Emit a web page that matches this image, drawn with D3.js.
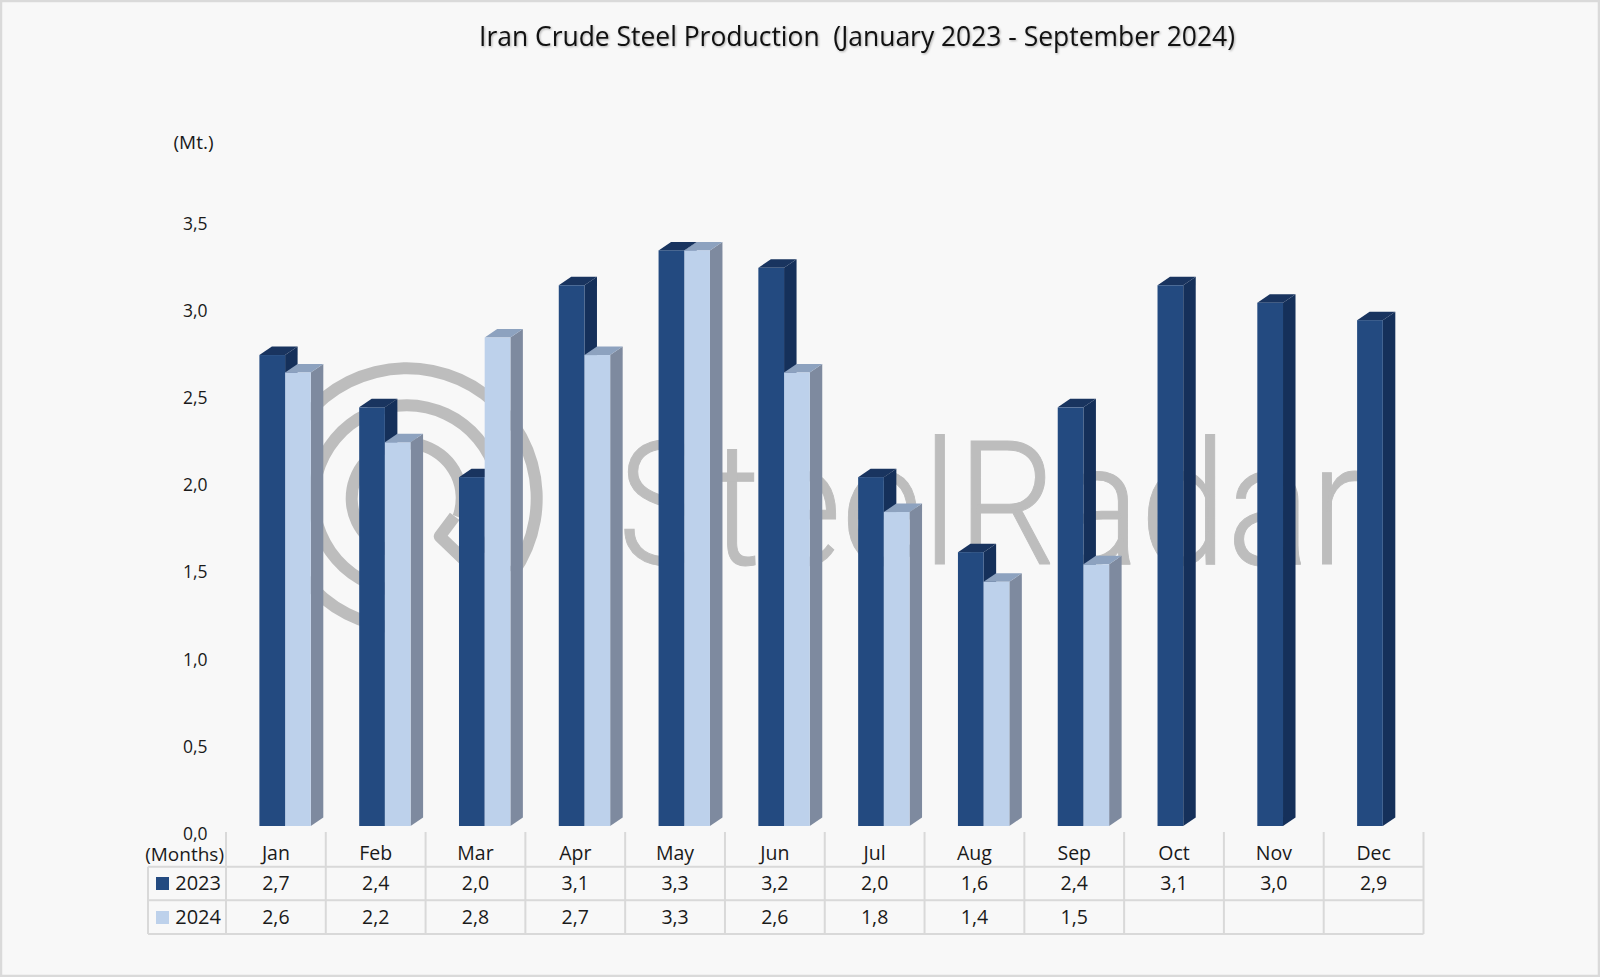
<!DOCTYPE html>
<html><head><meta charset="utf-8">
<script src="https://cdnjs.cloudflare.com/ajax/libs/d3/7.8.5/d3.min.js"></script>
<style>html,body{margin:0;padding:0;background:#f8f8f8}svg{display:block}
text{font-family:"Open Sans",sans-serif;fill:#1a1a1a}</style></head><body>
<script>
const months=["Jan","Feb","Mar","Apr","May","Jun","Jul","Aug","Sep","Oct","Nov","Dec"];
const years=["2023","2024"];
const values2023=[2.7,2.4,2.0,3.1,3.3,3.2,2.0,1.57,2.4,3.1,3.0,2.9];
const values2024=[2.6,2.2,2.8,2.7,3.3,2.6,1.8,1.4,1.5,null,null,null];
const yTicks=[0,0.5,1,1.5,2,2.5,3,3.5];
const titleText="Iran Crude Steel Production  (January 2023 - September 2024)";
const palette={2023:{front:"#234a80",side:"#15305a",top:"#19345f"},2024:{front:"#bdd1eb",side:"#7e8a9f",top:"#8da2bf"}};

const W=1600,H=977,depthX=12.5,depthY=8.5;
const svg=d3.select("body").append("svg").attr("width",W).attr("height",H);
svg.append("rect").attr("x",1).attr("y",1).attr("width",W-2).attr("height",H-2)
  .attr("fill","#f8f8f8").attr("stroke","#dadada").attr("stroke-width",2.5);

const x=d3.scaleBand().domain(months).range([226,1423.5]);
const xInner=d3.scaleBand().domain(years).range([33.4,84.8]);
const y=d3.scaleLinear().domain([0,3.5]).range([826,215.5]);
const comma=d=>d==null?"":d.toFixed(1).replace(".",",");

// watermark
const wm=svg.append("g").attr("class","watermark");
const logo=wm.append("g").attr("transform","translate(406.7,498.3)");
const deg=Math.PI/180;
[[130,-178,125],[93,-175,125],[55,-160,110]].forEach(([r,a,b])=>{
  logo.append("path").attr("fill","#bdbdbd")
    .attr("d",d3.arc()({innerRadius:r-6,outerRadius:r+6,startAngle:a*deg,endAngle:b*deg}));
});
logo.append("path").attr("fill","none").attr("stroke","#bdbdbd").attr("stroke-width",12)
  .attr("stroke-linejoin","round").attr("d","M48,18L33,38L58,62");
wm.append("text").attr("x",618).attr("y",564).attr("textLength",745).attr("lengthAdjust","spacingAndGlyphs")
  .style("font-family","Roboto,sans-serif").style("font-size","173px").style("font-weight",300)
  .style("fill","#bdbdbd").style("stroke","#bdbdbd").style("stroke-width",1).text("SteelRadar");

// title and unit
svg.append("text").attr("x",479).attr("y",46).attr("textLength",756).attr("lengthAdjust","spacingAndGlyphs")
  .style("white-space","pre").style("font-size","27px").style("fill","#111")
  .style("filter","drop-shadow(1px 1px 1px rgba(0,0,0,.3))").text(titleText);
svg.append("text").attr("x",193.5).attr("y",149).attr("text-anchor","middle").style("font-size","19px").text("(Mt.)");

// y axis labels
const axis=d3.axisLeft(y).tickValues(yTicks).tickFormat(comma).tickSize(0).tickPadding(0);
const ag=svg.append("g").attr("transform","translate(207.5,8)").call(axis);
ag.select(".domain").remove();
ag.selectAll("text").style("font-size","17.5px").style("font-family",'"Open Sans",sans-serif').attr("fill","#1a1a1a");

// bars
const series=[{year:"2023",vals:values2023},{year:"2024",vals:values2024}];
months.forEach((m,i)=>{
  series.forEach(s=>{
    const v=s.vals[i]; if(v==null) return;
    const x0=x(m)+xInner(s.year),x1=x0+xInner.bandwidth(),yt=y(v),yb=y(0),c=palette[s.year];
    const g=svg.append("g");
    g.append("path").attr("fill",c.side).attr("d",d3.line()([[x1,yt],[x1+depthX,yt-depthY],[x1+depthX,yb-depthY],[x1,yb]])+"Z");
    g.append("path").attr("fill",c.top).attr("d",d3.line()([[x0,yt],[x0+depthX,yt-depthY],[x1+depthX,yt-depthY],[x1,yt]])+"Z");
    g.append("rect").attr("x",x0).attr("y",yt).attr("width",x1-x0).attr("height",yb-yt).attr("fill",c.front);
  });
});

// data table
const rowY=[866.7,900.2,934];
const grid=svg.append("g").attr("stroke","#d9d9d9").attr("stroke-width",2);
rowY.forEach(r=>grid.append("line").attr("x1",148).attr("x2",x.range()[1]).attr("y1",r).attr("y2",r));
grid.append("line").attr("x1",148).attr("x2",148).attr("y1",rowY[0]).attr("y2",rowY[2]);
months.concat([null]).forEach((m,i)=>{
  const px=m?x(m):x.range()[1];
  grid.append("line").attr("x1",px).attr("x2",px).attr("y1",832).attr("y2",rowY[2]);
});
const cellSize="19.5px";
months.forEach((m,i)=>{
  const cx=x(m)+x.bandwidth()/2;
  svg.append("text").attr("x",cx).attr("y",859.5).attr("text-anchor","middle").style("font-size",cellSize).text(m);
  svg.append("text").attr("x",cx).attr("y",890).attr("text-anchor","middle").style("font-size",cellSize).text(comma(values2023[i]));
  svg.append("text").attr("x",cx).attr("y",924).attr("text-anchor","middle").style("font-size",cellSize).text(comma(values2024[i]));
});
svg.append("text").attr("x",224).attr("y",861).attr("text-anchor","end").style("font-size","19px").text("(Months)");
years.forEach((yr,i)=>{
  const base=[890,924][i];
  svg.append("rect").attr("x",156).attr("y",base-13).attr("width",13).attr("height",13).attr("fill",palette[yr].front);
  svg.append("text").attr("x",221).attr("y",base-0.5).attr("text-anchor","end").style("font-size","20px").text(yr);
});
</script></body></html>
